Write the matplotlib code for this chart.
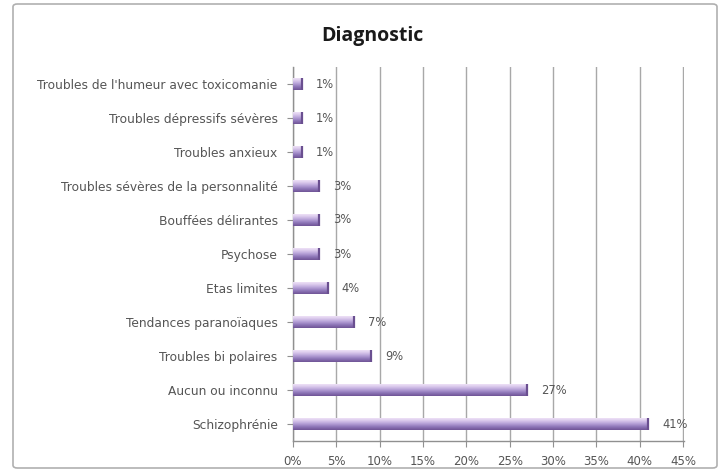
import numpy as np
import matplotlib
matplotlib.use("Agg")
import matplotlib.pyplot as plt
from matplotlib.patches import FancyBboxPatch
from matplotlib.colors import LinearSegmentedColormap

categories = [
    "Schizophrénie",
    "Aucun ou inconnu",
    "Troubles bi polaires",
    "Tendances paranoïaques",
    "Etas limites",
    "Psychose",
    "Bouffées délirantes",
    "Troubles sévères de la personnalité",
    "Troubles anxieux",
    "Troubles dépressifs sévères",
    "Troubles de l'humeur avec toxicomanie",
]
values = [41, 27, 9, 7, 4, 3, 3, 3, 1, 1, 1]
x_ticks = [0, 5, 10, 15, 20, 25, 30, 35, 40, 45]
title = "Diagnostic"

plt.rcParams["font.family"] = ["DejaVu Sans"]
text_color = "#555555"
fs = 8.8

fig = plt.figure(figsize=(7.21, 4.72), dpi=100)
fig.patch.set_facecolor("white")

# rounded chart-area frame
frame = FancyBboxPatch((13 / 721, 4 / 472), 704 / 721, 464 / 472,
                       boxstyle="round,pad=0,rounding_size=0.006",
                       transform=fig.transFigure, fill=False,
                       edgecolor="#b0b0b0", linewidth=1.2)
fig.add_artist(frame)

ax = fig.add_axes([293 / 721, 1 - 441 / 472, 391 / 721, 374 / 472])
ax.set_xlim(0, 45.1)
ax.set_ylim(-0.5, len(categories) - 0.5)

ypos = np.arange(len(categories))
bar_h = 0.38

# vertical gradient inside each bar: deeper purple below, pale lavender on top
cmap = LinearSegmentedColormap.from_list(
    "bar", ["#6f5496", "#8e76b8", "#b7a2d8", "#dccbed", "#f6eafa"])
grad = np.linspace(0, 1, 64).reshape(-1, 1)

bars = ax.barh(ypos, values, height=bar_h, color="#9c84c2",
               edgecolor="none", zorder=3)
for rect in bars:
    x0, y0 = rect.get_x(), rect.get_y()
    w, h = rect.get_width(), rect.get_height()
    im = ax.imshow(grad, cmap=cmap, aspect="auto", origin="lower",
                   extent=(x0, x0 + w, y0, y0 + h), zorder=4,
                   interpolation="bilinear")
    im.set_clip_path(rect)
    # darker end cap
    ax.plot([x0 + w, x0 + w], [y0, y0 + h], color="#6a4f90",
            lw=1.6, zorder=5, solid_capstyle="butt")

for y, v in zip(ypos, values):
    ax.annotate(f"{v}%", (v, y), xytext=(10, 0), textcoords="offset points",
                va="center", ha="left", fontsize=fs - 0.5, color=text_color,
                zorder=6)

ax.set_xticks(x_ticks)
ax.set_xticklabels([f"{t}%" for t in x_ticks], fontsize=fs - 0.3,
                   color=text_color)
ax.set_yticks(ypos)
ax.set_yticklabels(categories, fontsize=fs, color=text_color)
ax.tick_params(axis="y", length=4, color="#909090", pad=7)
ax.tick_params(axis="x", length=4, color="#909090", pad=6)

ax.grid(axis="x", color="#a8a8a8", linewidth=1.0, zorder=0)
ax.set_axisbelow(True)
for side in ("top", "right"):
    ax.spines[side].set_visible(False)
for side in ("left", "bottom"):
    ax.spines[side].set_color("#909090")
    ax.spines[side].set_linewidth(1.0)

fig.text(372 / 721, 1 - 36 / 472, title, ha="center", va="center",
         fontsize=14, fontweight="bold", color="#1a1a1a",
         family=["Open Sans", "DejaVu Sans"])

fig.savefig("out.png", dpi=100)
